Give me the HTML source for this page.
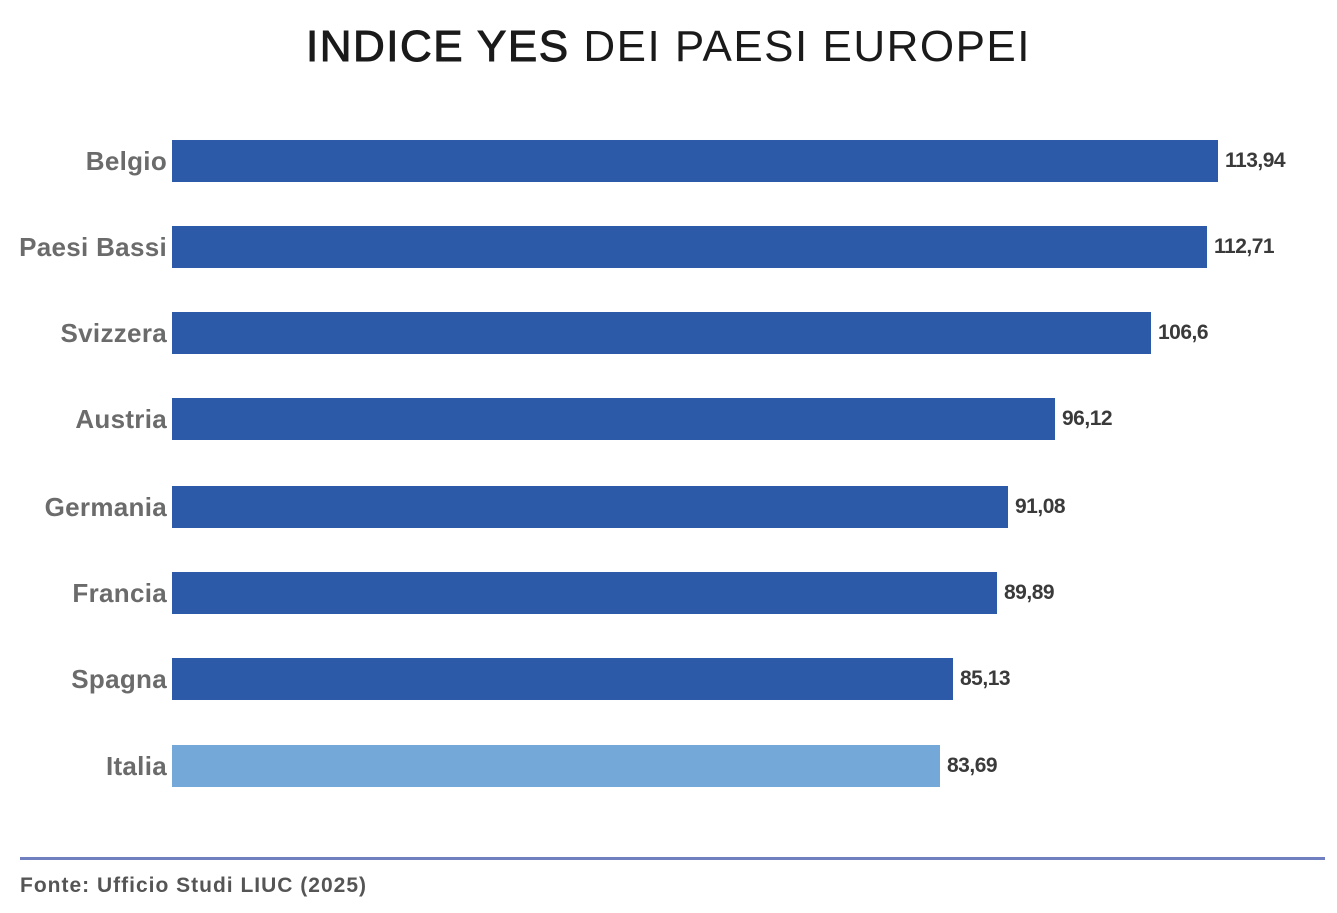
<!DOCTYPE html>
<html><head><meta charset="utf-8"><style>
body{margin:0;width:1337px;height:913px;background:#fff;position:relative;overflow:hidden;font-family:"Liberation Sans",sans-serif}
.t{position:absolute;top:22px;left:0;width:1337px;text-align:center;font-size:44px;color:#1a1a1a;letter-spacing:1.5px}
.l{position:absolute;right:1170px;font-size:26px;color:#6b6b6b;font-weight:bold;text-align:right;white-space:nowrap;line-height:42px;letter-spacing:0.3px}
.b{position:absolute;left:172px;height:42px;background:#2d5aa8}
.v{position:absolute;font-size:21px;font-weight:bold;color:#3a3a3a;line-height:42px;letter-spacing:-0.5px}
</style></head><body>
<div class="t"><b style="font-weight:normal;-webkit-text-stroke:1px #1a1a1a">INDICE YES</b> DEI PAESI EUROPEI</div>
<div class="l" style="top:140px">Belgio</div><div class="b" style="top:140px;width:1046px"></div><div class="v" style="top:140px;left:1225px">113,94</div>
<div class="l" style="top:226px">Paesi Bassi</div><div class="b" style="top:226px;width:1035px"></div><div class="v" style="top:226px;left:1214px">112,71</div>
<div class="l" style="top:312px">Svizzera</div><div class="b" style="top:312px;width:979px"></div><div class="v" style="top:312px;left:1158px">106,6</div>
<div class="l" style="top:398px">Austria</div><div class="b" style="top:398px;width:883px"></div><div class="v" style="top:398px;left:1062px">96,12</div>
<div class="l" style="top:486px">Germania</div><div class="b" style="top:486px;width:836px"></div><div class="v" style="top:486px;left:1015px">91,08</div>
<div class="l" style="top:572px">Francia</div><div class="b" style="top:572px;width:825px"></div><div class="v" style="top:572px;left:1004px">89,89</div>
<div class="l" style="top:658px">Spagna</div><div class="b" style="top:658px;width:781px"></div><div class="v" style="top:658px;left:960px">85,13</div>
<div class="l" style="top:745px">Italia</div><div class="b" style="top:745px;width:768px;background:#74a8d8"></div><div class="v" style="top:745px;left:947px">83,69</div>
<div style="position:absolute;left:20px;top:857px;width:1305px;height:3px;background:#6f7fc0"></div>
<div style="position:absolute;left:20px;top:874px;font-size:21px;font-weight:bold;color:#555;letter-spacing:1px">Fonte: Ufficio Studi LIUC (2025)</div>
</body></html>
